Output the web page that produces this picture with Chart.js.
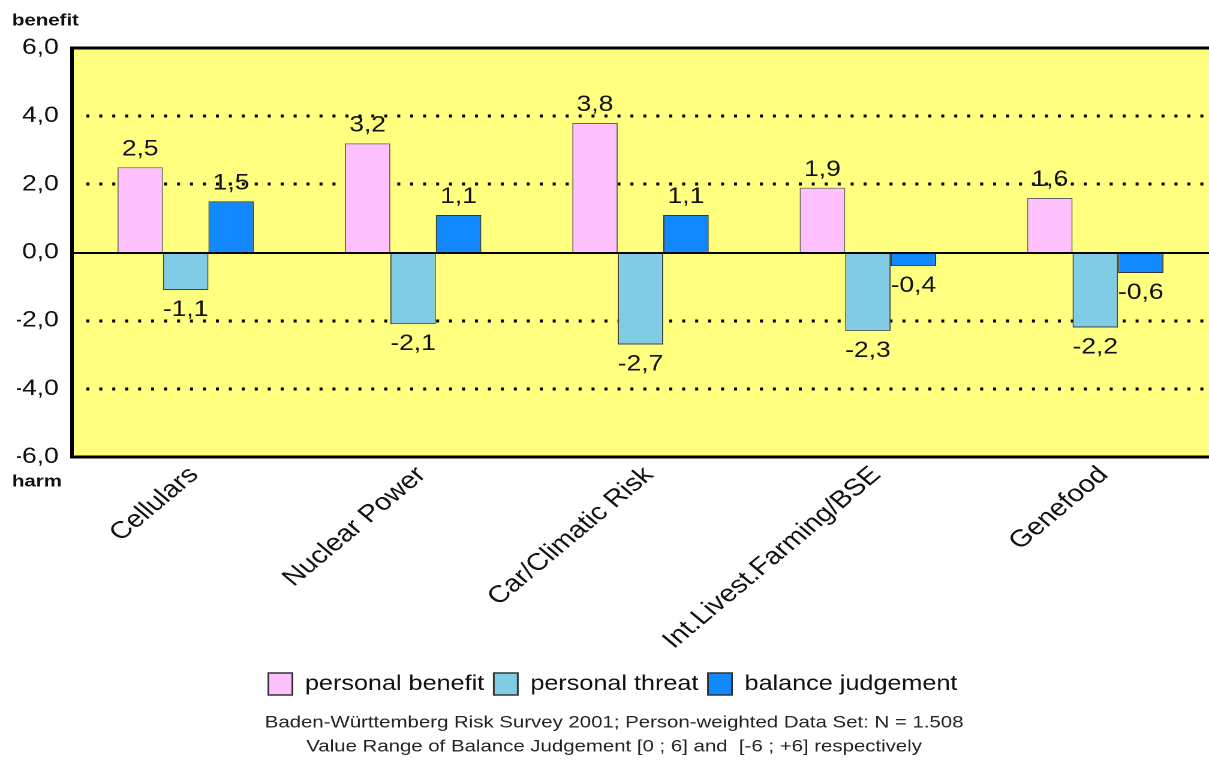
<!DOCTYPE html>
<html>
<head>
<meta charset="utf-8">
<script src="https://cdn.jsdelivr.net/npm/chart.js@4/dist/chart.umd.min.js"></script>
<style>
  html, body { margin: 0; padding: 0; background: #fff; overflow: hidden; }
  /* the source picture is stretched sideways, so draw narrow and widen */
  #wrap { width: 1008px; height: 760px; transform: scaleX(1.1994); transform-origin: 0 0; }
</style>
</head>
<body>
<div id="wrap"><canvas id="my_chart"></canvas></div>
<script>
const categories = ['Cellulars', 'Nuclear Power', 'Car/Climatic Risk', 'Int.Livest.Farming/BSE', 'Genefood'];
const personal_benefit = [2.5, 3.2, 3.8, 1.9, 1.6];
const personal_threat = [-1.1, -2.1, -2.7, -2.3, -2.2];
const balance_judgement = [1.5, 1.1, 1.1, -0.4, -0.6];
const y_ticks = [-6, -4, -2, 0, 2, 4, 6];
const footer_lines = [
    'Baden-Württemberg Risk Survey 2001; Person-weighted Data Set: N = 1.508',
    'Value Range of Balance Judgement [0 ; 6] and  [-6 ; +6] respectively'
];

const FONT = '"Liberation Sans", Arial, Helvetica, sans-serif';
const fmt = v => v.toFixed(1).replace('.', ',');

// yellow plot area, dotted grid and frame
const plot_bg = {
    id: 'plot_bg',
    beforeDatasetsDraw(chart) {
        const { ctx, chartArea: a, scales: { y } } = chart;
        ctx.save();
        ctx.fillStyle = '#FFFF80';
        ctx.fillRect(a.left, a.top, a.right - a.left, a.bottom - a.top);
        ctx.strokeStyle = '#000';
        ctx.lineWidth = 3;
        ctx.setLineDash([2.5, 8.3]);
        y_ticks.forEach(t => {
            if (t === 0 || Math.abs(t) === 6) return;
            const py = Math.round(y.getPixelForValue(t));
            ctx.beginPath();
            ctx.moveTo(a.left + 12, py);
            ctx.lineTo(a.right, py);
            ctx.stroke();
        });
        ctx.restore();
    },
    afterDatasetsDraw(chart) {
        const { ctx, chartArea: a, scales: { y } } = chart;
        ctx.save();
        ctx.strokeStyle = '#000';
        ctx.lineWidth = 2;
        const zero = Math.round(y.getPixelForValue(0));
        ctx.beginPath();
        ctx.moveTo(a.left, zero);
        ctx.lineTo(a.right, zero);
        ctx.stroke();

        ctx.lineWidth = 3;
        ctx.beginPath();
        ctx.moveTo(a.right, a.top);
        ctx.lineTo(a.left, a.top);
        ctx.lineTo(a.left, a.bottom);
        ctx.lineTo(a.right, a.bottom);
        ctx.stroke();

        // value labels
        ctx.fillStyle = '#111';
        ctx.font = '22px ' + FONT;
        ctx.textAlign = 'center';
        ctx.textBaseline = 'middle';
        chart.data.datasets.forEach((ds, i) => {
            chart.getDatasetMeta(i).data.forEach((bar, j) => {
                const v = ds.data[j];
                const ty = v >= 0 ? bar.y - 18 : bar.y + 20;
                ctx.fillText(fmt(v), bar.x, ty);
            });
        });
        ctx.restore();
    },
    afterDraw(chart) {
        const { ctx, chartArea: a } = chart;
        ctx.save();
        ctx.fillStyle = '#111';
        ctx.textAlign = 'left';
        ctx.textBaseline = 'middle';
        ctx.font = 'bold 17px ' + FONT;
        ctx.fillText('benefit', 10, 21);
        ctx.fillText('harm', 10, a.bottom + 25);

        ctx.fillStyle = '#222';
        ctx.font = '17px ' + FONT;
        ctx.textAlign = 'center';
        ctx.fillText(footer_lines[0], 512, 723);
        ctx.fillText(footer_lines[1], 512, 747);
        ctx.restore();
    }
};

const ctx = document.getElementById('my_chart').getContext('2d');
window.my_bar_chart = new Chart(ctx, {
    type: 'bar',
    data: {
        labels: categories,
        datasets: [
            { label: 'personal benefit', data: personal_benefit, backgroundColor: '#FFC0FF', borderColor: '#666', borderWidth: 1 },
            { label: 'personal threat', data: personal_threat, backgroundColor: '#80CCE4', borderColor: '#444', borderWidth: 1 },
            { label: 'balance judgement', data: balance_judgement, backgroundColor: '#1288FF', borderColor: '#333', borderWidth: 1 }
        ]
    },
    options: {
        responsive: true,
        maintainAspectRatio: false,
        animation: false,
        devicePixelRatio: 2,
        layout: { padding: { top: 48, left: 14, right: 0, bottom: 55 } },
        datasets: { bar: { categoryPercentage: 0.6, barPercentage: 1.0 } },
        scales: {
            x: {
                grid: { display: false, drawTicks: false },
                border: { display: false },
                ticks: {
                    autoSkip: false,
                    minRotation: 45,
                    maxRotation: 45,
                    padding: 4,
                    labelOffset: 7,
                    color: '#111',
                    font: { family: FONT, size: 24 }
                },
                afterFit(scale) { scale.height = 208; }
            },
            y: {
                min: -6,
                max: 6,
                grid: { display: false, drawTicks: false },
                border: { display: false },
                afterBuildTicks(scale) { scale.ticks = y_ticks.map(v => ({ value: v })); },
                ticks: {
                    padding: 11,
                    color: '#111',
                    font: { family: FONT, size: 22 },
                    callback: v => fmt(v)
                },
                afterFit(scale) { scale.width = 46; }
            }
        },
        plugins: {
            legend: {
                position: 'bottom',
                labels: {
                    boxWidth: 20,
                    boxHeight: 22,
                    padding: 8,
                    color: '#111',
                    font: { family: FONT, size: 21 },
                    generateLabels(chart) {
                        return chart.data.datasets.map((ds, i) => ({
                            text: ds.label,
                            fillStyle: ds.backgroundColor,
                            strokeStyle: '#333',
                            lineWidth: 1.5,
                            fontColor: '#111',
                            datasetIndex: i,
                            hidden: false
                        }));
                    }
                }
            },
            tooltip: { enabled: false }
        }
    },
    plugins: [plot_bg]
});
</script>
</body>
</html>
